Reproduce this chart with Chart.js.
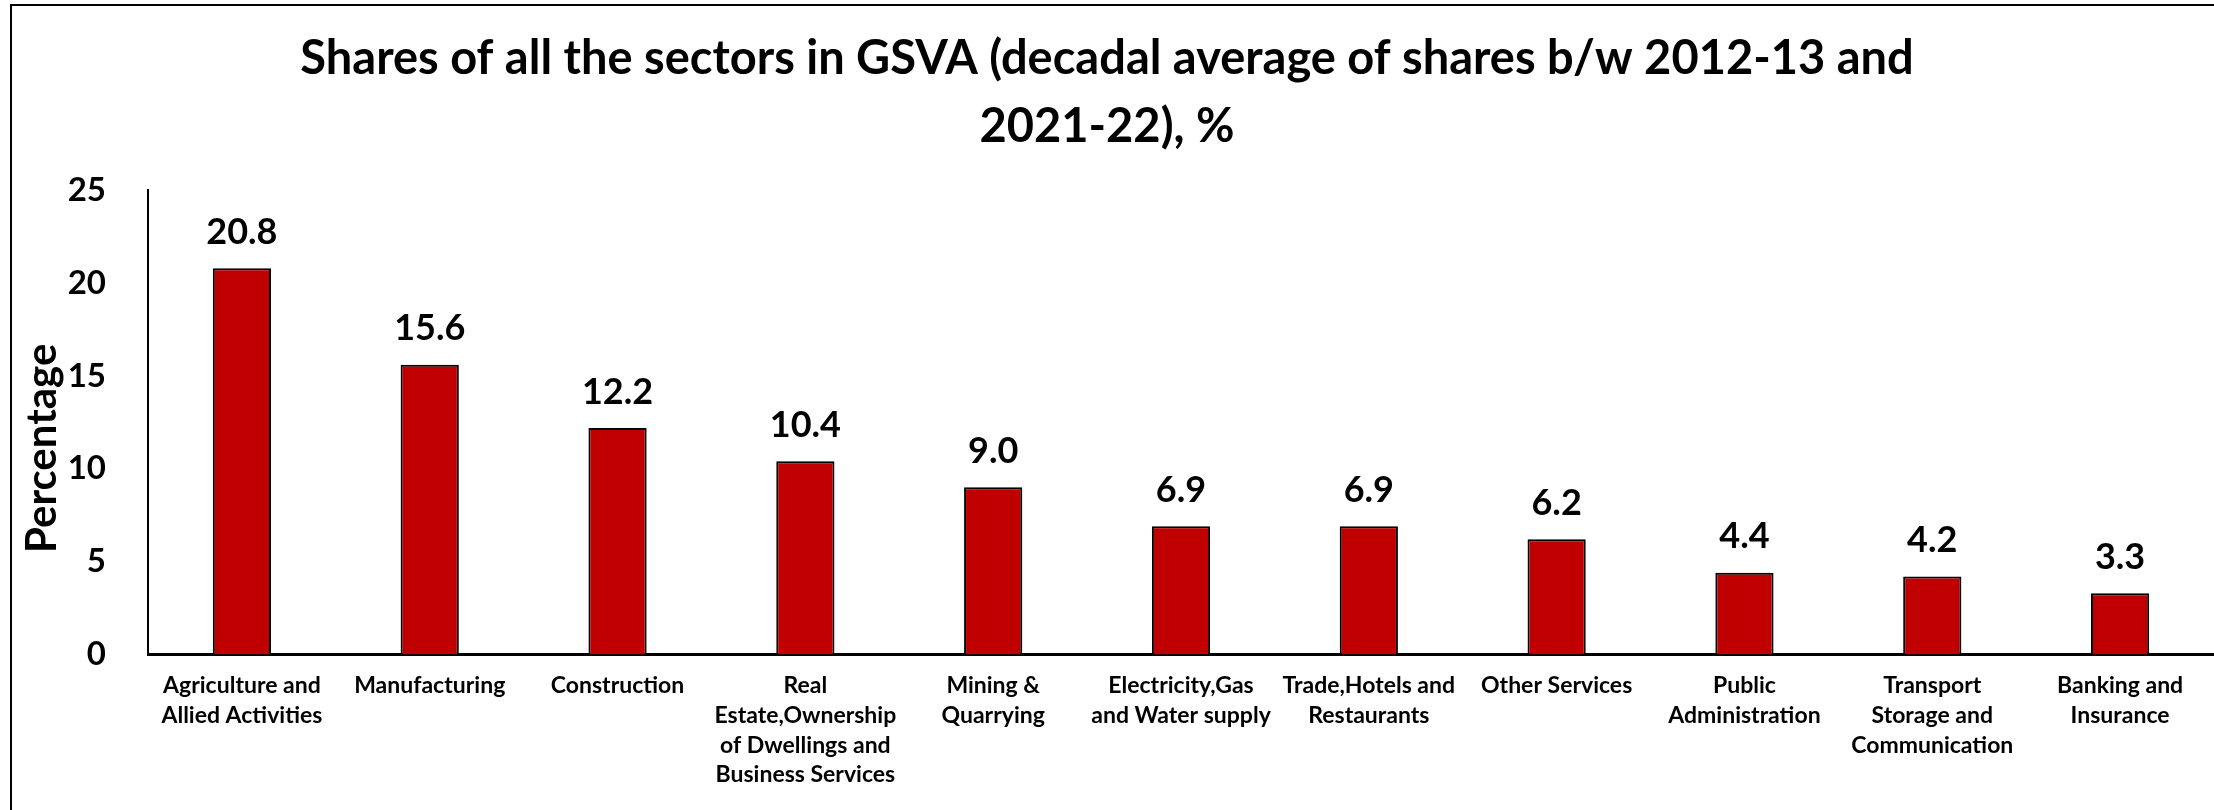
<!DOCTYPE html>
<html lang="en">
<head>
    <meta charset="UTF-8">
    <script src="https://cdn.jsdelivr.net/npm/chart.js"></script>
    <title>Shares of sectors in GSVA</title>
    <style>
        body { margin: 0; background: #fff; }
    </style>
</head>
<body>
<canvas id="gsvaChart" width="2214" height="810"></canvas>
<script>
    // sectors (multi-line labels as in the original)
    const sectors = [
        ['Agriculture and', 'Allied Activities'],
        'Manufacturing',
        'Construction',
        ['Real', 'Estate,Ownership', 'of Dwellings and', 'Business Services'],
        ['Mining &', 'Quarrying'],
        ['Electricity,Gas', 'and Water supply'],
        ['Trade,Hotels and', 'Restaurants'],
        'Other Services',
        ['Public', 'Administration'],
        ['Transport', 'Storage and', 'Communication'],
        ['Banking and', 'Insurance']
    ];
    // decadal average share, %
    const shares = [20.8, 15.6, 12.2, 10.4, 9.0, 6.9, 6.9, 6.2, 4.4, 4.2, 3.3];
    const yTicks = [0, 5, 10, 15, 20, 25];

    const fontName = 'Lato, "DejaVu Sans", sans-serif';

    // outer frame lines (top and left, like the exported image)
    const framePlugin = {
        id: 'frame',
        beforeDraw(chart) {
            const c = chart.ctx;
            c.save();
            c.fillStyle = '#fff';
            c.fillRect(0, 0, chart.width, chart.height);
            c.strokeStyle = '#000';
            c.lineWidth = 2;
            c.beginPath();
            c.moveTo(11, chart.height);
            c.lineTo(11, 5);
            c.lineTo(chart.width, 5);
            c.stroke();
            c.restore();
        }
    };

    // value labels above bars + rotated y title
    const labelPlugin = {
        id: 'valueLabels',
        afterDatasetsDraw(chart) {
            const c = chart.ctx;
            const meta = chart.getDatasetMeta(0);
            c.save();
            c.fillStyle = '#000';
            c.font = 'bold 36px ' + fontName;
            c.textAlign = 'center';
            c.textBaseline = 'middle';
            meta.data.forEach((bar, i) => {
                c.fillText(shares[i].toFixed(1), bar.x, bar.y - 36);
            });

            // y axis title
            const area = chart.chartArea;
            c.translate(42, (area.top + area.bottom) / 2 + 26);
            c.rotate(-Math.PI / 2);
            c.font = 'bold 42px ' + fontName;
            c.fillText('Percentage', 0, 0);
            c.restore();
        }
    };

    const ctx = document.getElementById('gsvaChart').getContext('2d');
    const gsvaChart = new Chart(ctx, {
        type: 'bar',
        data: {
            labels: sectors,
            datasets: [{
                data: shares,
                backgroundColor: '#C00000',
                borderColor: '#000',
                borderWidth: 2,
                borderSkipped: 'bottom',
                categoryPercentage: 1,
                barPercentage: 0.31
            }]
        },
        options: {
            responsive: false,
            animation: false,
            layout: { padding: { top: 0, right: 0, bottom: 4, left: 0 } },
            plugins: {
                legend: { display: false },
                tooltip: { enabled: false },
                title: {
                    display: true,
                    text: ['Shares of all the sectors in GSVA (decadal average of shares b/w 2012-13 and', '2021-22), %'],
                    color: '#000',
                    font: { family: fontName, size: 47, weight: 'bold', lineHeight: 1.45 },
                    padding: { top: 25, bottom: 29 }
                }
            },
            scales: {
                x: {
                    grid: { display: false, drawTicks: false },
                    border: { color: '#000', width: 3 },
                    ticks: {
                        color: '#000',
                        maxRotation: 0,
                        autoSkip: false,
                        padding: 16,
                        font: { family: fontName, size: 23, weight: 'bold', lineHeight: 1.3 }
                    }
                },
                y: {
                    min: 0,
                    max: 25,
                    afterBuildTicks(scale) {
                        scale.ticks = yTicks.map(v => ({ value: v }));
                    },
                    afterFit(scale) {
                        scale.width = 148;
                    },
                    grid: { display: false, drawTicks: false },
                    border: { color: '#000', width: 2 },
                    ticks: {
                        color: '#000',
                        padding: 42,
                        font: { family: fontName, size: 33, weight: 'bold' }
                    }
                }
            }
        },
        plugins: [framePlugin, labelPlugin]
    });
</script>
</body>
</html>
